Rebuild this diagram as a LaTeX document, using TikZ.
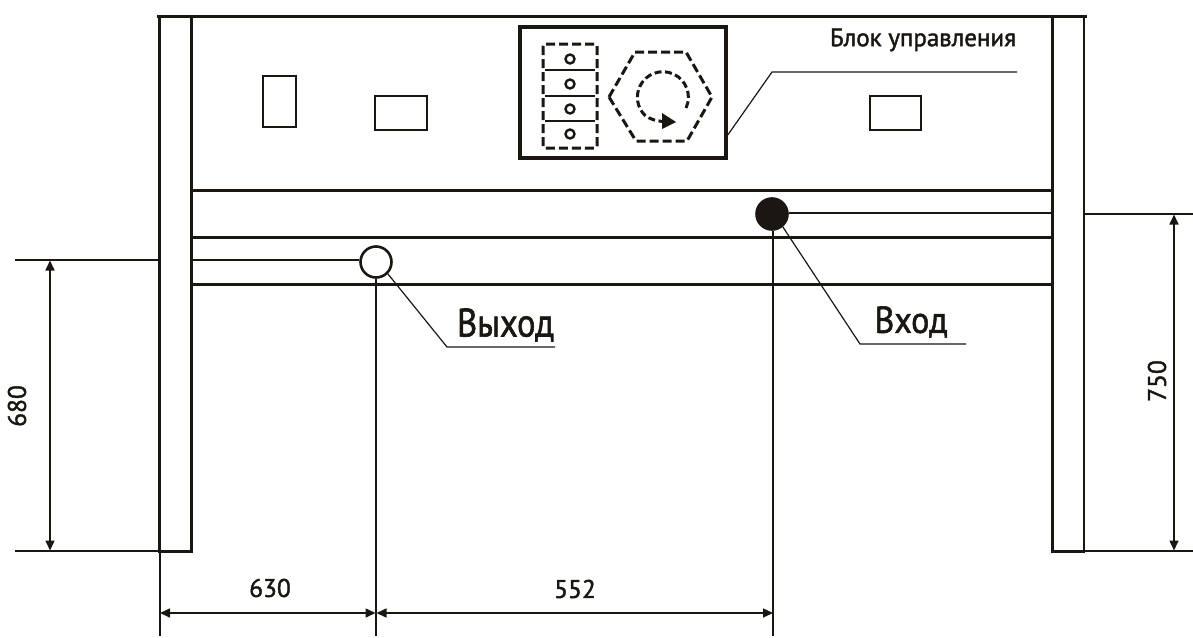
\documentclass[tikz,border=0pt]{standalone}
\usepackage{fontspec}
\setmainfont[FakeBold=1.6]{PT Sans}
\newfontfamily\lab[FakeBold=1.6]{PT Sans}
\usetikzlibrary{arrows.meta}
\definecolor{ink}{HTML}{1A1712}
\tikzset{
  x=1pt,y=-1pt,
  heavy/.style={draw=ink,line width=3pt},
  thin line/.style={draw=ink,line width=1.5pt},
  leader/.style={draw=ink,line width=1.2pt},
  dim/.style={draw=ink,line width=1.6pt,{Triangle[length=10pt,width=9pt]}-{Triangle[length=10pt,width=9pt]}},
  ext/.style={draw=ink,line width=1.8pt},
  dashline/.style={draw=ink,line width=3pt,dash pattern=on 9pt off 4pt,line join=round},
  label/.style={text=ink,inner sep=0pt,font=\bfseries},
  panel/.style={draw=ink,line width=1.5pt,fill=white,minimum height=0pt,inner sep=0pt},
  port/.style={circle,draw=ink,line width=2.6pt,minimum size=31pt,inner sep=0pt},
  screw/.style={circle,draw=ink,line width=2.4pt,minimum size=9pt,inner sep=0pt}
}
\begin{document}
\begin{tikzpicture}
\useasboundingbox (0,0) rectangle (1193,637);
% frame
\draw[heavy,line width=3.5pt] (157,16.5) -- (1087,16.5);
\draw[heavy] (191,17) -- (191,551);
\draw[heavy,line width=2.6pt] (159.5,17) -- (159.5,551);
\draw[heavy] (158,551) -- (192.5,551);
\draw[heavy] (1052,17) -- (1052,551.5);
\draw[thin line,line width=2pt] (1084,17) -- (1084,551.5);
\draw[heavy] (1050.5,551) -- (1085,551);
% rails
\draw[heavy] (191,190) -- (1052,190);
\draw[heavy] (191,237) -- (1052,237);
\draw[heavy] (191,284) -- (1052,284);
% ports
\node[port,fill=white] (out) at (376,262) {};
\node[port,fill=ink] (in) at (772,214) {};
\draw[thin line,line width=1.8pt] (191,260) -- (out.west |- 0,260);
\draw[thin line,line width=1.8pt] (in.east |- 0,213) -- (1052,213);
% small panels
\node[panel,minimum width=33pt,minimum height=51pt] (p1) at (279.5,101.5) {};
\node[panel,minimum width=52pt,minimum height=34pt] (p2) at (401,113) {};
\node[panel,minimum width=51pt,minimum height=34pt] (p3) at (895.5,113) {};
% control box
\node[draw=ink,line width=3.5pt,minimum width=206pt,minimum height=131pt,inner sep=0pt] (box) at (623,92.5) {};
\draw[dashline,rounded corners=2pt] (543,44) rectangle (597,148);
\draw[thin line,line width=2.6pt] (545,70) -- (595,70);
\draw[thin line,line width=2.6pt] (545,96) -- (595,96);
\draw[thin line,line width=2.6pt] (545,121) -- (595,121);
\node[screw] (s1) at (570,59) {};
\node[screw] (s2) at (570,84) {};
\node[screw] (s3) at (570,109) {};
\node[screw] (s4) at (570,134) {};
\draw[dashline] (609,97) -- (635,52) -- (686,52) -- (712,97) -- (687,141) -- (636,141) -- cycle;
\draw[dashline,dash pattern=on 7pt off 3.5pt] (686,108) arc[start angle=25,end angle=-225,x radius=25.5,y radius=25.5] .. controls (650,119) and (655,121) .. (664,121.5);
\fill[ink] (662,113) -- (676,122) -- (662,129) -- cycle;
% labels
\node[label,font=\lab\fontsize{25}{27}\selectfont] (blk) at (923,40) {Блок управления};
\node[label,font=\lab\fontsize{34.5}{36}\selectfont,yscale=1.15,transform shape] (vyh) at (505.5,325) {Выход};
\node[label,font=\lab\fontsize{34}{36}\selectfont,yscale=1.1,transform shape] (vh) at (911,322) {Вход};
\node[label,font=\lab\fontsize{25.5}{27}\selectfont] (d630) at (270,588) {630};
\node[label,font=\lab\fontsize{25.5}{27}\selectfont] (d552) at (575,589) {552};
\node[label,font=\lab\fontsize{25.5}{27}\selectfont,rotate=90] (d680) at (17,406) {680};
\node[label,font=\lab\fontsize{25.5}{27}\selectfont,rotate=90] (d750) at (1157,381) {750};
% leaders
\coordinate (k1) at (772,72); \coordinate (k1e) at (1017,72);
\draw[leader] (box.south east |- 0,135) -- (k1) -- (k1e);
\coordinate (k2) at (447,347); \coordinate (k2e) at (555,347);
\draw[leader] (out.-45) -- (k2) -- (k2e);
\coordinate (k3) at (860,344); \coordinate (k3e) at (966,344);
\draw[leader] (in.-50) -- (k3) -- (k3e);
% extension lines
\coordinate (el1) at (15,260); \coordinate (el2) at (15,551);
\coordinate (er1) at (1193,214); \coordinate (er2) at (1193,551);
\coordinate (a) at (160,636); \coordinate (b) at (376,636); \coordinate (c) at (773,636);
\draw[ext] (el1) -- (159,260);
\draw[ext] (el2) -- (159,551);
\draw[ext] (1084,214) -- (er1);
\draw[ext] (1084,551) -- (er2);
\draw[ext] (a |- 0,552) -- (a);
\draw[ext] (out.south -| b) -- (b);
\draw[ext] (in.south -| c) -- (c);
% dimensions
\draw[dim] (50,260.5) -- (50,550.5);
\draw[dim] (1174,214.5) -- (1174,550.5);
\draw[dim] (160,613) -- (375.5,613);
\draw[dim] (376.5,613) -- (773,613);
\end{tikzpicture}
\end{document}
